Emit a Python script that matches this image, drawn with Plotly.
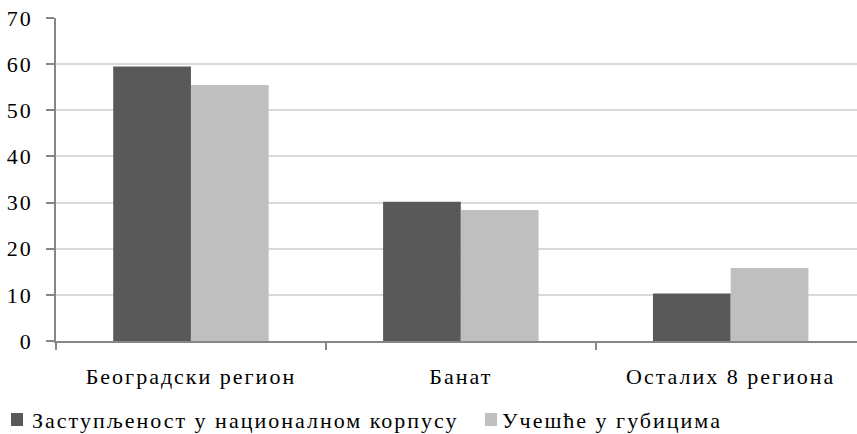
import plotly.graph_objects as go

categories = ["Београдски регион", "Банат", "Осталих 8 региона"]
series_names = ["Заступљеност у националном корпусу", "Учешће у губицима"]
zastuplenost = [59.5, 30.2, 10.3]
ucesce = [55.5, 28.4, 15.8]
colors = ["#595959", "#BFBFBF"]
y_ticks = [0, 10, 20, 30, 40, 50, 60, 70]

FONT = "'Liberation Serif', 'Times New Roman', 'DejaVu Serif', serif"
FS = 22
LS = 2  # letter spacing (px)


def spaced(t):
    return '<span style="letter-spacing:%dpx">%s</span>' % (LS, t)


fig = go.Figure()
for name, vals, col in zip(series_names, [zastuplenost, ucesce], colors):
    fig.add_trace(go.Bar(x=categories, y=vals, name=name,
                         marker=dict(color=col, line=dict(width=0)),
                         showlegend=False))

W, H = 857, 434
ML, MR, MT, MB = 56, 0, 18, 93
pw = W - ML - MR
ph = H - MT - MB


def px_to_paper_x(px):
    return (px - ML) / pw


def px_to_paper_y(py):
    return (H - MB - py) / ph


fig.update_layout(
    width=W, height=H,
    margin=dict(l=ML, r=MR, t=MT, b=MB, pad=0),
    paper_bgcolor="white", plot_bgcolor="white",
    font=dict(family=FONT, size=FS, color="black"),
    barmode="group", bargap=0.424, bargroupgap=0,
    xaxis=dict(type="category", range=[-0.5, 2.468], tickson="boundaries",
               tickvals=categories, ticktext=[spaced(c) for c in categories],
               ticks="outside", ticklen=7, tickcolor="#868686", tickwidth=1.5,
               showline=True, linecolor="#868686", linewidth=1.5, showgrid=False,
               automargin=False, ticklabelstandoff=15,
               tickfont=dict(family=FONT, size=FS, color="black")),
    yaxis=dict(range=[0, 70], tickvals=y_ticks, ticktext=[spaced(str(v)) for v in y_ticks],
               ticks="outside", ticklen=8,
               tickcolor="#868686", tickwidth=1.5, showline=True, linecolor="#868686",
               linewidth=1.5, showgrid=True, gridcolor="#D9D9D9", gridwidth=1.5,
               zeroline=False, automargin=False, ticklabelstandoff=9,
               tickfont=dict(family=FONT, size=FS, color="black")),
)

# legend drawn manually (swatch + label) to match the tight spacing of the reference
legend_items = [(11, 30), (485, 500)]
for (sx, tx), name, col in zip(legend_items, series_names, colors):
    fig.add_shape(type="rect", xref="paper", yref="paper",
                  x0=px_to_paper_x(sx), x1=px_to_paper_x(sx + 12),
                  y0=px_to_paper_y(426), y1=px_to_paper_y(413),
                  fillcolor=col, line=dict(width=0))
    fig.add_annotation(text=spaced(name), xref="paper", yref="paper",
                       x=px_to_paper_x(tx), y=px_to_paper_y(420),
                       xanchor="left", yanchor="middle", showarrow=False,
                       font=dict(family=FONT, size=FS, color="black"))

fig.write_html("out.html", config={"displayModeBar": False},
               post_script="document.body.style.margin='0';document.body.style.overflow='hidden';")
